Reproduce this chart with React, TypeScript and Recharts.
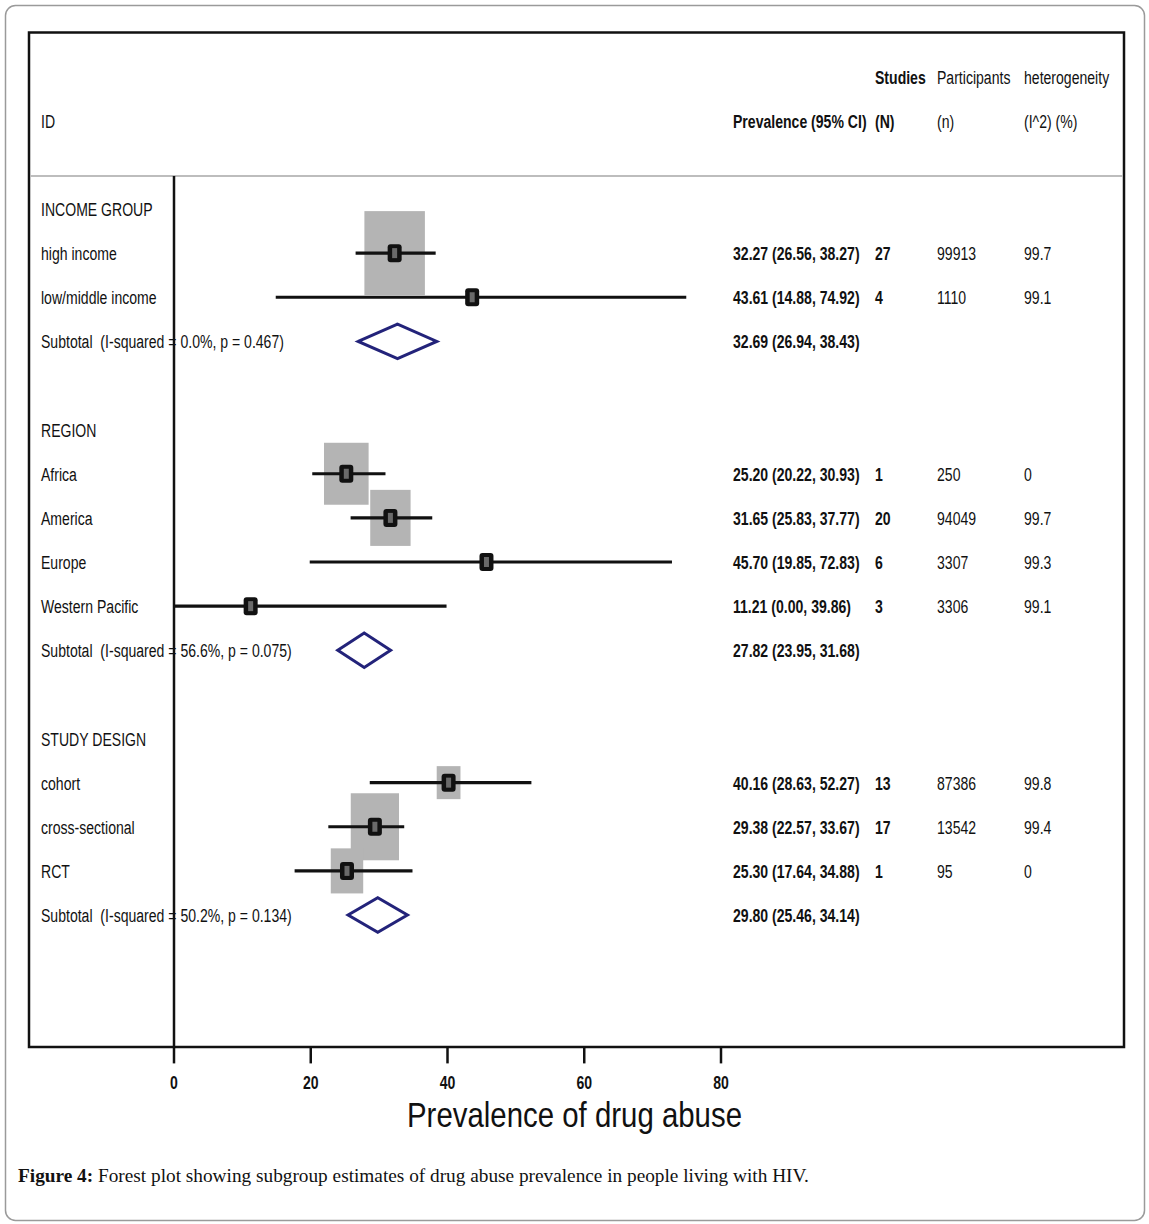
import React from 'react';
import { ComposedChart, Scatter, XAxis, YAxis, ReferenceLine } from 'recharts';

// rows of the forest plot, top to bottom
const rowIds = [
  'INCOME GROUP',
  'high income',
  'low/middle income',
  'Subtotal  (I-squared = 0.0%, p = 0.467)',
  '',
  'REGION',
  'Africa',
  'America',
  'Europe',
  'Western Pacific',
  'Subtotal  (I-squared = 56.6%, p = 0.075)',
  '',
  'STUDY DESIGN',
  'cohort',
  'cross-sectional',
  'RCT',
  'Subtotal  (I-squared = 50.2%, p = 0.134)',
];
const rowKinds = [
  'group', 'study', 'study', 'subtotal', 'blank',
  'group', 'study', 'study', 'study', 'study', 'subtotal', 'blank',
  'group', 'study', 'study', 'study', 'subtotal',
];
const estimates = [null, 32.27, 43.61, 32.69, null, null, 25.2, 31.65, 45.7, 11.21, 27.82, null, null, 40.16, 29.38, 25.3, 29.8];
const lowerCI = [null, 26.56, 14.88, 26.94, null, null, 20.22, 25.83, 19.85, 0.0, 23.95, null, null, 28.63, 22.57, 17.64, 25.46];
const upperCI = [null, 38.27, 74.92, 38.43, null, null, 30.93, 37.77, 72.83, 39.86, 31.68, null, null, 52.27, 33.67, 34.88, 34.14];
const studyCounts = ['', '27', '4', '', '', '', '1', '20', '6', '3', '', '', '', '13', '17', '1', ''];
const participants = ['', '99913', '1110', '', '', '', '250', '94049', '3307', '3306', '', '', '', '87386', '13542', '95', ''];
const heterogeneity = ['', '99.7', '99.1', '', '', '', '0', '99.7', '99.3', '99.1', '', '', '', '99.8', '99.4', '0', ''];
// relative study weights (box area)
const boxWeights = [0, 70.6, 0.5, 0, 0, 0, 38.4, 31.4, 0.5, 0.5, 0, 0, 0, 10.9, 44.9, 20.3, 0];

const headerTop = ['', '', 'Studies', 'Participants', 'heterogeneity'];
const headerBottom = ['ID', 'Prevalence (95% CI)', '(N)', '(n)', '(I^2) (%)'];
const xTicks = [0, 20, 40, 60, 80];
const axisTitle = 'Prevalence of drug abuse';

const W = 1149;
const H = 1224;
const FONT = '"Liberation Sans", Arial, sans-serif';
const SQUEEZE = 0.74;
const colX = [41, 733, 875, 937, 1024];
const boldCols = [false, true, true, false, false];
const DIAMOND_H = 0.39;

const fmt = (v: number) => v.toFixed(2);

const textRows = [
  { x: 0, y: -3, cells: headerTop },
  { x: 0, y: -2, cells: headerBottom },
  ...rowIds.map((id, i) => ({
    x: 0,
    y: i,
    cells: [
      id,
      estimates[i] == null ? '' : `${fmt(estimates[i] as number)} (${fmt(lowerCI[i] as number)}, ${fmt(upperCI[i] as number)})`,
      studyCounts[i],
      participants[i],
      heterogeneity[i],
    ],
  })),
];

const studyIdx = rowKinds.map((k, i) => (k === 'study' ? i : -1)).filter((i) => i >= 0);
const subIdx = rowKinds.map((k, i) => (k === 'subtotal' ? i : -1)).filter((i) => i >= 0);

const studyPoints = studyIdx.map((i) => ({ x: estimates[i] as number, y: i, weight: boxWeights[i] }));

const ciLines = studyIdx.map((i) => [
  { x: lowerCI[i] as number, y: i },
  { x: upperCI[i] as number, y: i },
]);

const diamonds = subIdx.map((i) => {
  const e = estimates[i] as number;
  const lo = lowerCI[i] as number;
  const hi = upperCI[i] as number;
  return [
    { x: lo, y: i },
    { x: e, y: i - DIAMOND_H },
    { x: hi, y: i },
    { x: e, y: i + DIAMOND_H },
    { x: lo, y: i },
    { x: e, y: i - DIAMOND_H },
  ];
});

// squeezed text, the source figure is horizontally compressed
const Txt = ({ x, y, size = 19, sx = SQUEEZE, bold = false, anchor = 'start', children }: any) => (
  <text
    transform={`translate(${x},${y}) scale(${sx},1)`}
    x={0}
    y={0}
    textAnchor={anchor}
    fontFamily={FONT}
    fontSize={size}
    fontWeight={bold ? 700 : 400}
    fill="#111"
    style={{ whiteSpace: 'pre' }}
  >
    {children}
  </text>
);

const RowText = (props: any) => {
  const { cy, payload } = props;
  return (
    <g>
      {payload.cells.map((c: string, k: number) =>
        c ? (
          <Txt key={k} x={colX[k]} y={cy + 7} bold={boldCols[k]}>
            {c}
          </Txt>
        ) : null
      )}
    </g>
  );
};

const WeightBox = (props: any) => {
  const { cx, cy, payload } = props;
  const h = 10 * Math.sqrt(payload.weight);
  const w = 0.72 * h;
  return <rect x={cx - w / 2} y={cy - h / 2} width={w} height={h} fill="#b4b4b4" />;
};

const StudyMarker = (props: any) => {
  const { cx, cy } = props;
  return (
    <g>
      <rect x={cx - 7} y={cy - 9} width={14} height={18} rx={3} fill="#111" />
      <rect x={cx - 2.5} y={cy - 5} width={5} height={10} fill="#6a6a6a" />
    </g>
  );
};

const AxisTick = (props: any) => {
  const { x, y, payload } = props;
  return (
    <Txt x={x} y={y + 26} anchor="middle" bold>
      {payload.value}
    </Txt>
  );
};

const AxisTitle = (props: any) => {
  const vb = props.viewBox || { x: 174, y: 1047, width: 547 };
  return (
    <Txt x={vb.x + vb.width / 2 + 127} y={vb.y + 80} anchor="middle" size={35} sx={0.84}>
      {axisTitle}
    </Txt>
  );
};

const noDot = () => <g />;

export default function App() {
  return (
    <div style={{ position: 'relative', width: W, height: H, background: '#fff' }}>
      <style>{'body{margin:0}'}</style>
      <svg width={W} height={H} style={{ position: 'absolute', left: 0, top: 0 }}>
        <rect x={5.5} y={5.5} width={1139} height={1215} rx={10} fill="#fff" stroke="#9a9a9a" strokeWidth={1.5} />
        <rect x={29} y={32.5} width={1095} height={1014.5} fill="none" stroke="#111" strokeWidth={2.5} />
        <line x1={30} x2={1123} y1={176} y2={176} stroke="#bdbdbd" strokeWidth={2} />
        <text x={18} y={1182} fontFamily='"Liberation Serif", "Times New Roman", serif' fontSize={19.3} fill="#111">
          <tspan fontWeight={700}>Figure 4:</tspan>
          <tspan> Forest plot showing subgroup estimates of drug abuse prevalence in people living with HIV.</tspan>
        </text>
      </svg>
      <div style={{ position: 'absolute', left: 0, top: 0 }}>
        <ComposedChart width={W} height={H} margin={{ top: 32.5, left: 174, right: 428, bottom: 116.6 }}>
          <XAxis
            type="number"
            dataKey="x"
            domain={[0, 80]}
            ticks={xTicks}
            axisLine={false}
            tickLine={{ stroke: '#111', strokeWidth: 2.5 }}
            tickSize={16}
            tickMargin={0}
            height={60}
            tick={<AxisTick />}
            label={{ value: axisTitle, content: <AxisTitle /> }}
          />
          <YAxis type="number" dataKey="y" domain={[-4, 19]} reversed hide />
          <ReferenceLine
            segment={[{ x: 0, y: -0.75 }, { x: 0, y: 19 }]}
            stroke="#111"
            strokeWidth={2.5}
            ifOverflow="visible"
          />
          <Scatter data={textRows} shape={<RowText />} isAnimationActive={false} />
          <Scatter data={studyPoints} shape={<WeightBox />} isAnimationActive={false} />
          {ciLines.map((d, k) => (
            <Scatter
              key={`ci${k}`}
              data={d}
              line={{ stroke: '#111', strokeWidth: 3.2 }}
              lineType="joint"
              shape={noDot}
              isAnimationActive={false}
            />
          ))}
          <Scatter data={studyPoints} shape={<StudyMarker />} isAnimationActive={false} />
          {diamonds.map((d, k) => (
            <Scatter
              key={`dm${k}`}
              data={d}
              line={{ stroke: '#23237a', strokeWidth: 3, strokeLinejoin: 'miter' }}
              lineType="joint"
              shape={noDot}
              isAnimationActive={false}
            />
          ))}
        </ComposedChart>
      </div>
    </div>
  );
}
